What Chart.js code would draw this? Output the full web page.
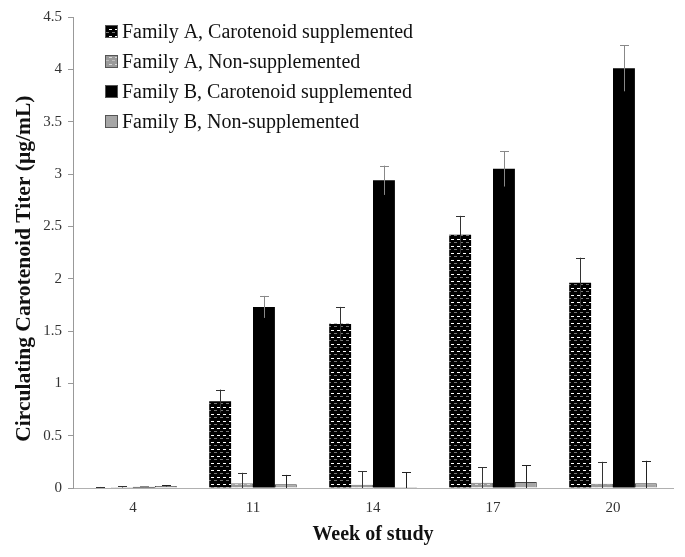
<!DOCTYPE html>
<html>
<head>
<meta charset="utf-8">
<script src="https://cdn.jsdelivr.net/npm/chart.js@4"></script>
<style>
  html, body { margin: 0; padding: 0; background: #fff; }
  #wrap { width: 685px; height: 557px; position: relative; }
</style>
</head>
<body>
<div id="wrap"><canvas id="chart"></canvas></div>
<script>
// data
const weeks = ['4', '11', '14', '17', '20'];
const seriesNames = [
  'Family A, Carotenoid supplemented',
  'Family A, Non-supplemented',
  'Family B, Carotenoid supplemented',
  'Family B, Non-supplemented'
];
const famACarot = [0.005, 0.83, 1.57, 2.42, 1.96];
const famANon   = [0.01, 0.045, 0.03, 0.05, 0.04];
const famBCarot = [0.01, 1.73, 2.94, 3.05, 4.01];
const famBNon   = [0.02, 0.035, 0.01, 0.057, 0.045];
const errACarot = [0.005, 0.11, 0.16, 0.18, 0.24];
const errANon   = [0.005, 0.10, 0.13, 0.15, 0.21];
const errBCarot = [0.005, 0.105, 0.14, 0.17, 0.22];
const errBNon   = [0.005, 0.09, 0.14, 0.16, 0.215];
const yTicks = [0, 0.5, 1, 1.5, 2, 2.5, 3, 3.5, 4, 4.5];

const SERIF = '"Liberation Serif", "Times New Roman", serif';

// dashed brick-ish fill like the excel pattern
function makePattern(bg, dashA, dashB) {
  const c = document.createElement('canvas');
  c.width = 6; c.height = 7;
  const g = c.getContext('2d');
  g.fillStyle = bg;
  g.fillRect(0, 0, 6, 7);
  g.fillStyle = dashA;
  g.fillRect(1, 1, 3, 1);
  g.fillStyle = dashB;
  g.fillRect(4, 4, 2, 1);
  g.fillRect(0, 4, 1, 1);
  return g.createPattern(c, 'repeat');
}

const patA = makePattern('#000000', '#ffffff', '#777777');
const patANon = makePattern('#9a9a9a', '#d8d8d8', '#bdbdbd');

const errorBars = {
  id: 'errorBars',
  afterDatasetsDraw(chart) {
    const ctx = chart.ctx;
    const y = chart.scales.y;
    chart.data.datasets.forEach((ds, i) => {
      const meta = chart.getDatasetMeta(i);
      meta.data.forEach((bar, j) => {
        const v = ds.data[j], e = ds.errors[j];
        const top = y.getPixelForValue(v + e);
        const bot = y.getPixelForValue(Math.max(0, v - e));
        ctx.save();
        ctx.strokeStyle = ds.errColor;
        ctx.lineWidth = 1;
        ctx.beginPath();
        ctx.moveTo(Math.round(bar.x) + 0.5, top);
        ctx.lineTo(Math.round(bar.x) + 0.5, bot);
        ctx.moveTo(Math.round(bar.x) - 4, Math.round(top) + 0.5);
        ctx.lineTo(Math.round(bar.x) + 5, Math.round(top) + 0.5);
        ctx.stroke();
        ctx.restore();
      });
    });
  }
};

const insideLegend = {
  id: 'insideLegend',
  afterDraw(chart) {
    const ctx = chart.ctx;
    ctx.save();
    ctx.font = '20px ' + SERIF;
    ctx.textBaseline = 'middle';
    chart.data.datasets.forEach((ds, i) => {
      const yy = 32 + i * 30;
      ctx.fillStyle = ds.backgroundColor;
      ctx.fillRect(105, yy - 7, 13, 13);
      ctx.strokeStyle = '#555';
      ctx.lineWidth = 1;
      ctx.strokeRect(105.5, yy - 6.5, 12, 12);
      ctx.fillStyle = '#111';
      ctx.fillText(ds.label, 122, yy + 1);
    });
    ctx.restore();
  }
};

new Chart(document.getElementById('chart'), {
  type: 'bar',
  data: {
    labels: weeks,
    datasets: [
      { label: seriesNames[0], data: famACarot, errors: errACarot, backgroundColor: patA, borderColor: '#000', borderWidth: 0, errColor: '#333' },
      { label: seriesNames[1], data: famANon, errors: errANon, backgroundColor: patANon, borderColor: '#777', borderWidth: 1, errColor: '#333' },
      { label: seriesNames[2], data: famBCarot, errors: errBCarot, backgroundColor: '#000000', borderColor: '#000', borderWidth: 0, errColor: '#888' },
      { label: seriesNames[3], data: famBNon, errors: errBNon, backgroundColor: '#a6a6a6', borderColor: '#444', borderWidth: 1, errColor: '#222' }
    ]
  },
  options: {
    responsive: true,
    maintainAspectRatio: false,
    animation: false,
    layout: { padding: { left: 0, right: 12, top: 17, bottom: 0 } },
    datasets: { bar: { categoryPercentage: 0.73, barPercentage: 1 } },
    plugins: {
      legend: { display: false },
      tooltip: { enabled: false }
    },
    scales: {
      x: {
        grid: { display: false },
        border: { display: true, color: '#b0b0b0', width: 1 },
        ticks: { color: '#333', font: { family: SERIF, size: 15 }, padding: 3 },
        title: {
          display: true, text: 'Week of study', color: '#111',
          font: { family: SERIF, size: 20, weight: 'bold' }, padding: { top: 0, bottom: 10 }
        },
        afterFit(scale) { scale.height = 69; }
      },
      y: {
        min: 0, max: 4.5,
        afterBuildTicks(scale) { scale.ticks = yTicks.map(v => ({ value: v })); },
        grid: { drawOnChartArea: false, drawTicks: true, tickLength: 5, color: '#999' },
        border: { display: true, color: '#999', width: 1 },
        ticks: { color: '#333', font: { family: SERIF, size: 15 }, padding: 6, callback: v => String(v) },
        title: {
          display: true, text: 'Circulating Carotenoid Titer (µg/mL)\u00a0\u00a0\u00a0\u00a0\u00a0\u00a0', color: '#111',
          font: { family: SERIF, size: 21.5, weight: 'bold' }, padding: { top: 12, bottom: 0 }
        },
        afterFit(scale) { scale.width = 73; }
      }
    }
  },
  plugins: [errorBars, insideLegend]
});
</script>
</body>
</html>
